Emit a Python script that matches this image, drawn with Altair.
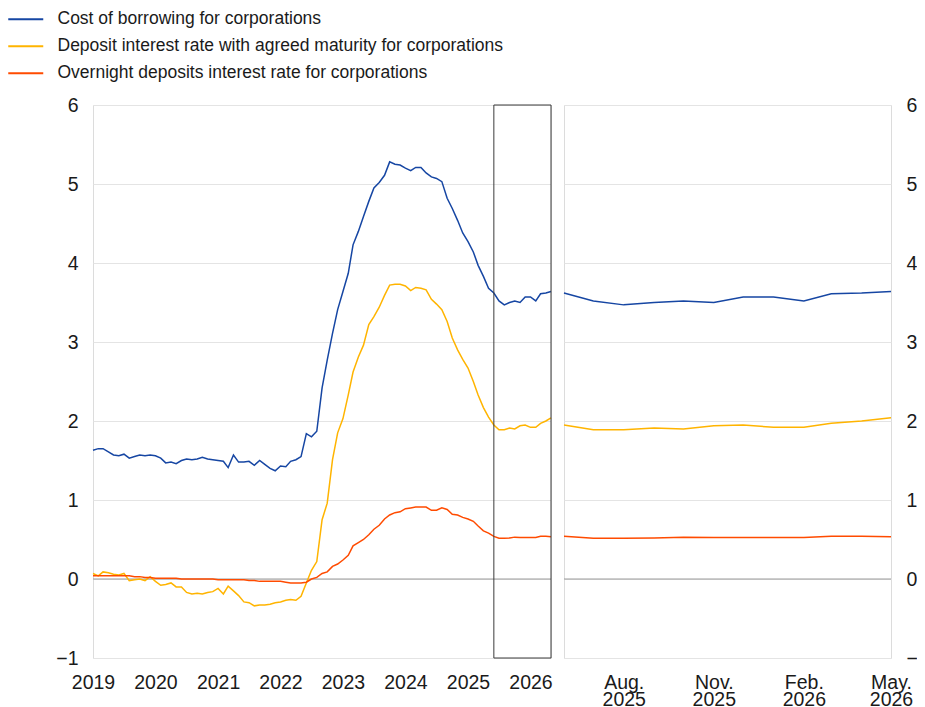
import altair as alt
import pandas as pd

# ---------------- data ----------------
series_names = [
    "Cost of borrowing for corporations",
    "Deposit interest rate with agreed maturity for corporations",
    "Overnight deposits interest rate for corporations",
]
series_colors = ["#1646a3", "#FFB400", "#FF4B00"]

start_month = "2019-01-01"
end_month = "2026-05-01"
zoom_start = "2025-06-01"

months = pd.date_range(start_month, end_month, freq="MS").strftime("%Y-%m-%d").tolist()

cost_of_borrowing = [
    1.63, 1.65, 1.65, 1.61, 1.57, 1.56, 1.58, 1.53, 1.55, 1.57, 1.56, 1.57,
    1.56, 1.53, 1.47, 1.48, 1.46, 1.50, 1.52, 1.51, 1.52, 1.54, 1.52, 1.51,
    1.50, 1.49, 1.41, 1.57, 1.48, 1.48, 1.49, 1.44, 1.50, 1.45, 1.40, 1.37,
    1.43, 1.42, 1.49, 1.51, 1.55, 1.84, 1.80, 1.87, 2.42, 2.77, 3.11, 3.41,
    3.64, 3.87, 4.23, 4.40, 4.59, 4.78, 4.95, 5.02, 5.11, 5.28, 5.25, 5.24,
    5.20, 5.17, 5.21, 5.21, 5.14, 5.09, 5.07, 5.03, 4.82, 4.69, 4.54, 4.38,
    4.27, 4.14, 3.97, 3.83, 3.68, 3.62, 3.52, 3.47, 3.50, 3.52, 3.50, 3.57,
    3.57, 3.52, 3.61, 3.62, 3.64,
]
deposit_agreed = [
    0.07, 0.04, 0.09, 0.08, 0.06, 0.05, 0.07, -0.02, -0.01, 0.00, -0.02, 0.03,
    -0.03, -0.08, -0.07, -0.05, -0.10, -0.10, -0.17, -0.19, -0.18, -0.19, -0.17, -0.16,
    -0.12, -0.19, -0.09, -0.15, -0.21, -0.29, -0.30, -0.34, -0.33, -0.33, -0.32, -0.30,
    -0.29, -0.27, -0.26, -0.27, -0.22, -0.05, 0.11, 0.22, 0.75, 0.96, 1.51, 1.85,
    2.03, 2.33, 2.62, 2.81, 2.96, 3.22, 3.32, 3.44, 3.59, 3.72, 3.73, 3.73,
    3.71, 3.65, 3.69, 3.68, 3.66, 3.54, 3.48, 3.41, 3.26, 3.05, 2.90, 2.78,
    2.67, 2.50, 2.33, 2.17, 2.05, 1.95, 1.89, 1.89, 1.91, 1.90, 1.94, 1.95,
    1.92, 1.92, 1.97, 2.00, 2.04,
]
overnight_deposits = [
    0.04, 0.04, 0.04, 0.04, 0.04, 0.04, 0.04, 0.04, 0.03, 0.03, 0.02, 0.02,
    0.01, 0.01, 0.01, 0.01, 0.01, 0.00, 0.00, 0.00, 0.00, 0.00, 0.00, 0.00,
    -0.01, -0.01, -0.01, -0.01, -0.01, -0.01, -0.02, -0.02, -0.03, -0.03, -0.03, -0.03,
    -0.03, -0.04, -0.05, -0.05, -0.05, -0.04, 0.00, 0.02, 0.07, 0.09, 0.16, 0.19,
    0.24, 0.30, 0.42, 0.46, 0.50, 0.56, 0.63, 0.68, 0.76, 0.81, 0.84, 0.85,
    0.89, 0.90, 0.91, 0.91, 0.91, 0.87, 0.87, 0.90, 0.88, 0.82, 0.81, 0.78,
    0.76, 0.73, 0.67, 0.61, 0.58, 0.54, 0.515, 0.515, 0.52, 0.53, 0.525, 0.525,
    0.525, 0.525, 0.54, 0.54, 0.535,
]

year_ticks = [2019, 2020, 2021, 2022, 2023, 2024, 2025, 2026]
zoom_ticks = [(2025, 8), (2025, 11), (2026, 2), (2026, 5)]
y_ticks = [-1, 0, 1, 2, 3, 4, 5, 6]
y_min, y_max = -1, 6

# ---------------- tables ----------------
rows = []
for name, vals in zip(series_names, [cost_of_borrowing, deposit_agreed, overnight_deposits]):
    for d, v in zip(months, vals):
        rows.append({"date": d, "series": name, "value": v})
df = pd.DataFrame(rows)
df_zoom = df[df["date"] >= zoom_start]

zero_df = pd.DataFrame({"v": [0]})
box_df = pd.DataFrame({"start": [zoom_start], "end": [end_month], "lo": [y_min], "hi": [y_max]})


def dt(y, m):
    return alt.DateTime(year=y, month=m, date=1, utc=True)


FONT = "Liberation Sans"
LABEL_SIZE = 19.5
GRID = "#e4e4e4"

# ---------------- scales & axes ----------------
y_scale = alt.Scale(domain=[y_min, y_max], nice=False, zero=False)
y_axis_left = alt.Axis(values=y_ticks, orient="left", grid=True, gridColor=GRID, domain=False,
                       ticks=False, labelPadding=15, minExtent=85, title=None)
y_axis_right = alt.Axis(values=y_ticks, orient="right", grid=True, gridColor=GRID, domain=False,
                        ticks=False, labelPadding=15, title=None)

x_left_scale = alt.Scale(type="utc", domain=[dt(2019, 1), dt(2026, 5)])
x_left_axis = alt.Axis(values=[dt(y, 1) for y in year_ticks], labelExpr="utcFormat(datum.value, '%Y')",
                       grid=False, domain=False, ticks=False, labelPadding=15, labelFlush=False,
                       labelOverlap=False, title=None)
x_right_scale = alt.Scale(type="utc", domain=[dt(2025, 6), dt(2026, 5)])
x_right_axis = alt.Axis(values=[dt(y, m) for y, m in zoom_ticks],
                        labelExpr="[utcFormat(datum.value, '%b') + '.', utcFormat(datum.value, '%Y')]",
                        grid=False, domain=False, ticks=False, labelPadding=15, labelFlush=False,
                        labelOverlap=False, labelLineHeight=17, title=None)

color_scale = alt.Scale(domain=series_names, range=series_colors)
legend = alt.Legend(orient="none", legendX=-85, legendY=-94.5, direction="vertical", title=None,
                    symbolType="M-3.5,0H3.5", symbolSize=100, symbolStrokeWidth=2, symbolOffset=9,
                    labelOffset=23, labelFontSize=17.5, labelFont=FONT, labelColor="#1a1a1a",
                    rowPadding=8, padding=0, labelLimit=0)

# ---------------- left panel ----------------
left_zero = alt.Chart(zero_df).mark_rule(color="#9a9a9a", strokeWidth=1).encode(
    y=alt.Y("v:Q", scale=y_scale, axis=y_axis_left)
)
left_lines = alt.Chart(df).mark_line(strokeWidth=1.5).encode(
    x=alt.X("date:T", scale=x_left_scale, axis=x_left_axis),
    y=alt.Y("value:Q", scale=y_scale, axis=y_axis_left),
    color=alt.Color("series:N", scale=color_scale, legend=legend),
)
left_box = alt.Chart(box_df).mark_rect(fillOpacity=0, stroke="#3a3a3a", strokeWidth=1).encode(
    x=alt.X("start:T", scale=x_left_scale, axis=x_left_axis),
    x2="end:T",
    y=alt.Y("lo:Q", scale=y_scale, axis=y_axis_left),
    y2="hi:Q",
)
left = alt.layer(left_zero, left_lines, left_box).properties(width=458, height=553)

# ---------------- right panel ----------------
right_zero = alt.Chart(zero_df).mark_rule(color="#9a9a9a", strokeWidth=1).encode(
    y=alt.Y("v:Q", scale=y_scale, axis=y_axis_right)
)
right_lines = alt.Chart(df_zoom).mark_line(strokeWidth=1.5).encode(
    x=alt.X("date:T", scale=x_right_scale, axis=x_right_axis),
    y=alt.Y("value:Q", scale=y_scale, axis=y_axis_right),
    color=alt.Color("series:N", scale=color_scale, legend=None),
)
right = alt.layer(right_zero, right_lines).properties(width=327, height=553)

chart = (
    alt.hconcat(left, right, spacing=5)
    .resolve_legend(color="independent")
    .properties(padding={"left": -1, "top": 2, "right": -12, "bottom": 0})
    .configure_view(stroke="#dcdcdc", strokeWidth=1)
    .configure_axis(labelFont=FONT, labelFontSize=LABEL_SIZE, labelColor="#1a1a1a")
)

chart.save("out.html", embed_options={"renderer": "svg", "actions": False})
